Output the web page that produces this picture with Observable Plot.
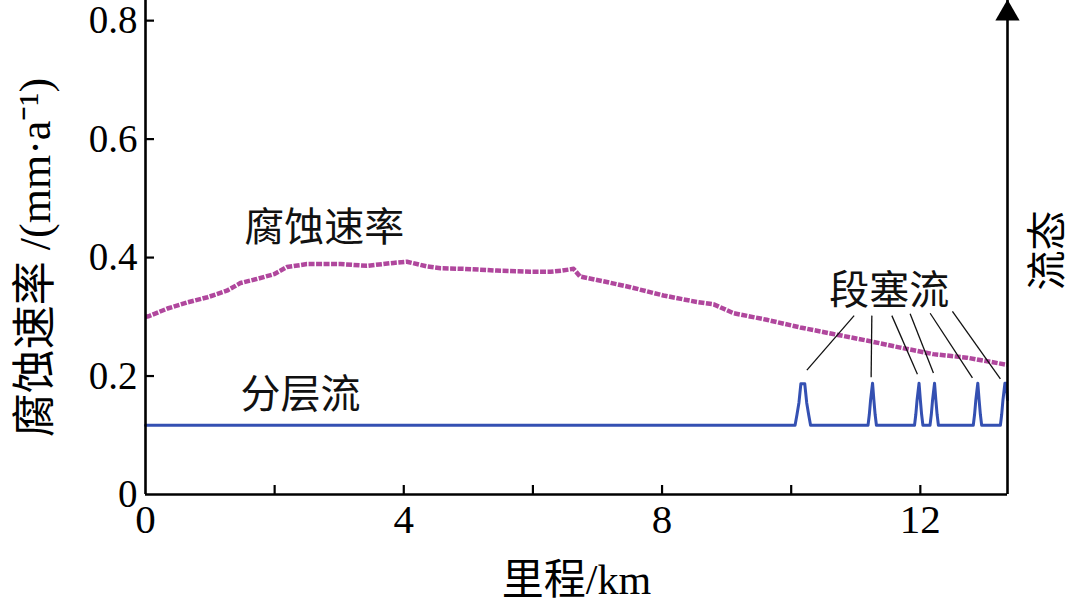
<!DOCTYPE html>
<html>
<head>
<meta charset="utf-8">
<script src="https://cdn.jsdelivr.net/npm/d3@7"></script>
<script src="https://cdn.jsdelivr.net/npm/@observablehq/plot@0.6"></script>
<style>
  html, body { margin: 0; padding: 0; background: #fff; }
  #chart svg { display: block; }
</style>
</head>
<body>
<div id="chart"></div>
<script>
// ---- data ----
const rateKm = [0.0, 0.05, 0.34, 0.64, 0.96, 1.26, 1.47, 1.73, 1.99, 2.19, 2.5, 3.02, 3.43, 3.84, 4.05, 4.36, 4.57, 4.93, 5.44, 5.96, 6.27, 6.45, 6.63, 6.73, 7.09, 7.51, 8.02, 8.54, 8.8, 9.11, 9.62, 10.14, 10.65, 11.17, 11.69, 12.2, 12.72, 13.34];
const rateVal = [0.300, 0.301, 0.314, 0.324, 0.333, 0.344, 0.357, 0.364, 0.372, 0.384, 0.389, 0.389, 0.386, 0.391, 0.393, 0.385, 0.382, 0.381, 0.378, 0.376, 0.376, 0.378, 0.381, 0.368, 0.360, 0.350, 0.336, 0.325, 0.321, 0.306, 0.295, 0.282, 0.271, 0.260, 0.248, 0.237, 0.231, 0.219];

const flowKm = [0, 10.06, 10.09, 10.12, 10.15, 10.21, 10.24, 10.27, 10.30,
  11.19, 11.21, 11.23, 11.26, 11.28, 11.30, 11.32,
  11.91, 11.93, 11.95, 11.98, 12.00, 12.02, 12.04,
  12.15, 12.17, 12.19, 12.22, 12.24, 12.26, 12.28,
  12.82, 12.84, 12.86, 12.89, 12.91, 12.93, 12.95,
  13.24, 13.26, 13.28, 13.31, 13.33, 13.35];
const flowVal = [0.117, 0.117, 0.135, 0.155, 0.187, 0.187, 0.155, 0.135, 0.117,
  0.117, 0.135, 0.160, 0.188, 0.160, 0.135, 0.117,
  0.117, 0.135, 0.160, 0.188, 0.160, 0.135, 0.117,
  0.117, 0.135, 0.160, 0.188, 0.160, 0.135, 0.117,
  0.117, 0.135, 0.160, 0.188, 0.160, 0.135, 0.117,
  0.117, 0.135, 0.160, 0.188, 0.188, 0.160];

// leader lines for "段塞流"
const leadX1 = [10.975, 11.249, 11.559, 11.842, 12.152, 12.497];
const leadY1 = [0.302, 0.302, 0.302, 0.305, 0.306, 0.309];
const leadX2 = [10.243, 11.238, 11.955, 12.203, 12.807, 13.240];
const leadY2 = [0.210, 0.198, 0.203, 0.205, 0.197, 0.195];

const xTickLabels = [0, 4, 8, 12];
const xTicksAll = [2, 4, 6, 8, 10, 12];
const yTicks = [0, 0.2, 0.4, 0.6, 0.8];
const xMax = 13.35;
const yMax = 0.834;

const labels = [
  {text: "腐蚀速率", x: 2.77, y: 0.449},
  {text: "分层流", x: 2.40, y: 0.167},
  {text: "段塞流", x: 11.52, y: 0.343}
];

// ---- build tables ----
const rate = rateKm.map((x, i) => ({x, y: rateVal[i]}));
const flow = flowKm.map((x, i) => ({x, y: flowVal[i]}));
const leads = leadX1.map((x1, i) => ({x1, y1: leadY1[i], x2: leadX2[i], y2: leadY2[i]}));

const FONT = "'Liberation Serif', 'Times New Roman', 'Noto Sans CJK SC', serif";
const CJK = "'Noto Sans CJK SC', 'Liberation Serif', serif";

const W = 1080, H = 613, ML = 145, MR = 73, MT = 0, MB = 119;

const chart = Plot.plot({
  width: W,
  height: H,
  marginLeft: ML,
  marginRight: MR,
  marginTop: MT,
  marginBottom: MB,
  style: {fontFamily: FONT, background: "#fff", color: "#000", overflow: "visible"},
  x: {domain: [0, xMax]},
  y: {domain: [0, yMax]},
  marks: [
    // data
    Plot.line(rate, {x: "x", y: "y", stroke: "#b0479d", strokeWidth: 4.5, strokeDasharray: "6,1.5", strokeLinecap: "butt"}),
    Plot.line(flow, {x: "x", y: "y", stroke: "#3450b2", strokeWidth: 3, strokeLinejoin: "round"}),
    Plot.link(leads, {x1: "x1", y1: "y1", x2: "x2", y2: "y2", stroke: "#111", strokeWidth: 1.3}),
    Plot.text(labels, {x: "x", y: "y", text: "text", fontSize: 40, fontFamily: CJK, fill: "#111"}),
    // axes
    Plot.ruleX([0], {stroke: "#000", strokeWidth: 2.6}),
    Plot.ruleY([0], {stroke: "#000", strokeWidth: 2.6}),
    Plot.ruleX([xMax], {stroke: "#000", strokeWidth: 2.6}),
    Plot.dot([{x: xMax, y: yMax}], {x: "x", y: "y", symbol: "triangle", r: 9, fill: "#000", dy: 13}),
    Plot.tickY(yTicks.filter(d => d > 0), {y: d => d, stroke: "#000", strokeWidth: 2.2, insetRight: W - ML - MR - 9}),
    Plot.tickX(xTicksAll, {x: d => d, stroke: "#000", strokeWidth: 2.2, insetTop: H - MT - MB - 9}),
    Plot.axisY({ticks: yTicks, tickSize: 0, tickPadding: 8, fontSize: 39, fontFamily: FONT, label: null,
      tickFormat: d => d === 0 ? "0" : d.toFixed(1)}),
    Plot.axisX({ticks: xTickLabels, tickSize: 0, tickPadding: 9, fontSize: 41, fontFamily: FONT, label: null,
      tickFormat: d => String(d)}),
    // axis titles
    Plot.text(["腐蚀速率 /(mm·a⁻¹)"], {frameAnchor: "left", textAnchor: "middle", rotate: -90, dx: -110, dy: 10, fontSize: 44, fontFamily: FONT, fill: "#000"}),
    Plot.text(["里程/km"], {frameAnchor: "bottom", textAnchor: "middle", dy: 99, fontSize: 42, fontFamily: FONT, fill: "#000"}),
    Plot.text(["流态"], {frameAnchor: "right", textAnchor: "middle", rotate: -90, dx: 41, dy: 3, fontSize: 40, fontFamily: CJK, fill: "#000"})
  ]
});

document.getElementById("chart").appendChild(chart);
</script>
</body>
</html>
